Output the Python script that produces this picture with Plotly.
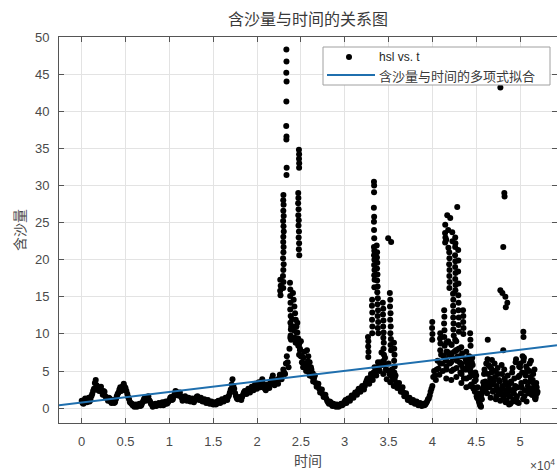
import numpy as np
import plotly.graph_objects as go

# ---------------- data ----------------
t_base = [
    0, 200, 400, 600, 800, 1000, 1200, 1400, 1600, 1800,
    2000, 2200, 2400, 2600, 2800, 3000, 3200, 3400, 3600, 3800,
    4000, 4200, 4400, 4600, 4800, 5000, 5200, 5400, 5600, 5800,
    6000, 6200, 6400, 6600, 6800, 7000, 7200, 7400, 7600, 7800,
    8000, 8200, 8400, 8600, 8800, 9000, 9200, 9400, 9600, 9800,
    10000, 10200, 10400, 10600, 10800, 11000, 11200, 11400, 11600, 11800,
    12000, 12200, 12400, 12600, 12800, 13000, 13200, 13400, 13600, 13800,
    14000, 14200, 14400, 14600, 14800, 15000, 15200, 15400, 15600, 15800,
    16000, 16200, 16400, 16600, 16800, 17000, 17200, 17400, 17600, 17800,
    18000, 18200, 18400, 18600, 18800, 19000, 19200, 19400, 19600, 19800,
    20000, 20200, 20400, 20600, 20800, 21000, 21200, 21400, 21600, 21800,
    22000, 22200, 22400, 22600, 22800, 23000, 23200, 23400, 23600, 23800,
    24000, 24200, 24400, 24600, 24800, 25000, 25200, 25400, 25600, 25800,
    26000, 26200, 26400, 26600, 26800, 27000, 27200, 27400, 27600, 27800,
    28000, 28200, 28400, 28600, 28800, 29000, 29200, 29400, 29600, 29800,
    30000, 30200, 30400, 30600, 30800, 31000, 31200, 31400, 31600, 31800,
    32000, 32200, 32400, 32600, 32800, 33000, 33200, 33400, 33600, 33800,
    34000, 34200, 34400, 34600, 34800, 35000, 35200, 35400, 35600, 35800,
    36000, 36200, 36400, 36600, 36800, 37000, 37200, 37400, 37600, 37800,
    38000, 38200, 38400, 38600, 38800, 39000, 39200, 39400, 39600, 39800,
    40000, 40200, 40400, 40600, 40800, 41000, 41200, 41400, 41600, 41800,
    42000, 42200, 42400, 42600, 42800, 43000, 43200, 43400, 43600, 43800,
    44000, 44200, 44400, 44600, 44800, 45000, 45200, 45400, 45600, 45800,
    46000, 46200, 46400, 46600, 46800, 47000, 47200, 47400, 47600, 47800,
    48000, 48200, 48400, 48600, 48800, 49000, 49200, 49400, 49600, 49800,
    50000, 50200, 50400, 50600, 50800, 51000, 51200, 51400, 51600, 51800,
    52000,
]
hsl_base = [
    1.0, 0.6, 1.3, 0.8, 1.4, 1.1, 1.9, 2.6, 3.8, 2.9,
    2.3, 2.9, 1.8, 2.2, 1.4, 1.0, 1.3, 0.7, 1.1, 0.8,
    1.6, 2.1, 2.8, 2.4, 3.3, 2.7, 1.9, 1.2, 0.7, 0.4,
    0.2, 0.5, 0.3, 0.6, 0.4, 0.9, 1.4, 1.1, 1.6, 0.9,
    0.5, 0.3, 0.6, 0.4, 0.7, 0.4, 0.8, 0.5, 0.9, 0.7,
    1.1, 1.5, 1.2, 1.9, 2.2, 1.7, 2.1, 1.4, 1.2, 1.6,
    1.0, 1.4, 0.9, 1.3, 0.8, 1.2, 1.6, 1.1, 1.4, 0.9,
    1.2, 0.7, 1.1, 0.6, 0.9, 0.5, 0.8, 0.6, 1.0, 0.7,
    1.2, 0.9, 1.4, 1.1, 1.7, 2.5, 3.9, 2.6, 1.6, 1.2,
    1.5, 1.1, 1.8, 2.3, 1.9, 2.6, 2.1, 2.9, 2.4, 3.3,
    2.6, 3.5, 2.8, 3.9, 3.0, 2.4, 3.2, 2.7, 3.6, 4.4,
    3.1, 3.8, 3.3, 4.5, 3.9, 5.2, 4.6, 7.0, 5.5, 9.5,
    12.0, 10.5, 8.8, 11.5, 7.2, 9.0, 6.1, 7.6, 5.0, 6.3,
    4.4, 5.2, 3.6, 4.4, 2.9, 3.3, 2.1, 2.5, 1.5, 1.8,
    1.0, 0.6, 0.8, 0.3, 0.5, 0.2, 0.4, 0.3, 0.6, 0.5,
    0.9, 0.7, 1.3, 1.0, 1.7, 1.4, 2.1, 1.8, 2.6, 2.2,
    3.0, 2.5, 3.4, 4.0, 3.3, 4.6, 3.8, 5.5, 4.4, 6.2,
    5.0, 7.5, 4.6, 6.8, 3.9, 6.0, 3.5, 5.2, 3.0, 4.4,
    2.7, 3.4, 2.2, 2.8, 1.6, 2.0, 1.1, 1.4, 0.8, 1.1,
    0.6, 0.9, 0.4, 0.7, 0.3, 0.6, 0.5, 0.9, 1.3, 2.2,
    3.0, 5.0, 3.8, 6.4, 4.5, 7.2, 5.0, 8.4, 5.6, 9.0,
    6.0, 8.5, 5.2, 9.2, 6.4, 8.0, 4.8, 7.4, 4.0, 6.6,
    6.0, 7.0, 4.8, 5.8, 3.6, 4.4, 2.0, 0.6, 1.8, 3.5,
    4.8, 3.2, 5.8, 4.0, 6.5, 3.6, 5.0, 2.6, 3.8, 1.8,
    3.0, 5.2, 2.4, 4.4, 1.6, 3.4, 0.9, 2.6, 1.3, 4.2,
    5.5, 2.8, 6.4, 3.6, 5.0, 2.4, 4.2, 1.8, 3.2, 1.5,
    2.2,
]

t_mid = [
    100, 300, 500, 700, 900, 1100, 1300, 1500, 1700, 1900,
    2100, 2300, 2500, 2700, 2900, 3100, 3300, 3500, 3700, 3900,
    4100, 4300, 4500, 4700, 4900, 5100, 5300, 5500, 5700, 5900,
    6100, 6300, 6500, 6700, 6900, 7100, 7300, 7500, 7700, 7900,
    8100, 8300, 8500, 8700, 8900, 9100, 9300, 9500, 9700, 9900,
    10100, 10300, 10500, 10700, 10900, 11100, 11300, 11500, 11700, 11900,
    12100, 12300, 12500, 12700, 12900, 13100, 13300, 13500, 13700, 13900,
    14100, 14300, 14500, 14700, 14900, 15100, 15300, 15500, 15700, 15900,
    16100, 16300, 16500, 16700, 16900, 17100, 17300, 17500, 17700, 17900,
    18100, 18300, 18500, 18700, 18900, 19100, 19300, 19500, 19700, 19900,
    20100, 20300, 20500, 20700, 20900, 21100, 21300, 21500, 21700, 21900,
    22100, 22300, 22500, 22700, 22900, 23100, 23300, 23500, 23700, 23900,
    24100, 24300, 24500, 24700, 24900, 25100, 25300, 25500, 25700, 25900,
    26100, 26300, 26500, 26700, 26900, 27100, 27300, 27500, 27700, 27900,
    28100, 28300, 28500, 28700, 28900, 29100, 29300, 29500, 29700, 29900,
    30100, 30300, 30500, 30700, 30900, 31100, 31300, 31500, 31700, 31900,
    32100, 32300, 32500, 32700, 32900, 33100, 33300, 33500, 33700, 33900,
    34100, 34300, 34500, 34700, 34900, 35100, 35300, 35500, 35700, 35900,
    36100, 36300, 36500, 36700, 36900, 37100, 37300, 37500, 37700, 37900,
    38100, 38300, 38500, 38700, 38900, 39100, 39300, 39500, 39700, 39900,
    40100, 40300, 40500, 40700, 40900, 41100, 41300, 41500, 41700, 41900,
    42100, 42300, 42500, 42700, 42900, 43100, 43300, 43500, 43700, 43900,
]
hsl_mid = [
    0.7, 1.1, 0.9, 1.2, 0.9, 1.6, 2.3, 3.4, 3.1, 2.4,
    2.7, 2.2, 2.3, 1.6, 1.3, 1.4, 0.9, 1.0, 0.7, 1.2,
    1.9, 2.5, 2.3, 3.0, 2.9, 2.3, 1.5, 0.8, 0.6, 0.5,
    0.4, 0.2, 0.5, 0.3, 0.7, 1.2, 1.0, 1.4, 1.1, 0.6,
    0.2, 0.5, 0.3, 0.6, 0.5, 0.6, 0.4, 0.8, 0.6, 0.9,
    1.4, 1.1, 1.6, 2.3, 1.8, 2.0, 1.6, 1.0, 1.5, 1.2,
    1.3, 1.0, 1.2, 0.9, 1.1, 1.5, 1.2, 1.3, 1.0, 1.1,
    0.9, 1.0, 0.8, 0.8, 0.6, 0.7, 0.5, 0.9, 0.8, 1.0,
    1.0, 1.2, 1.2, 1.5, 2.1, 3.2, 3.0, 2.0, 1.3, 1.4,
    1.3, 1.5, 2.1, 2.0, 2.3, 2.2, 2.6, 2.5, 3.0, 2.8,
    3.2, 3.0, 3.5, 3.3, 2.6, 2.9, 2.8, 3.3, 4.0, 3.6,
    3.5, 3.4, 4.0, 4.1, 4.6, 4.8, 6.0, 6.2, 8.0, 11.0,
    11.0, 9.5, 10.2, 8.4, 8.0, 7.0, 6.8, 5.8, 5.6, 4.9,
    4.8, 4.2, 4.0, 3.4, 3.1, 2.6, 2.3, 1.9, 1.7, 1.3,
    0.8, 0.9, 0.5, 0.6, 0.3, 0.5, 0.2, 0.5, 0.4, 0.7,
    1.1, 1.0, 1.1, 1.4, 1.5, 1.8, 1.9, 2.3, 2.3, 2.7,
    2.8, 3.0, 3.7, 3.6, 4.1, 4.1, 4.8, 4.8, 5.5, 5.4,
    6.2, 5.8, 5.9, 5.2, 5.1, 4.6, 4.4, 4.0, 3.8, 3.4,
    3.1, 2.7, 2.6, 2.1, 1.9, 1.5, 1.3, 1.0, 1.0, 0.8,
    0.8, 0.6, 0.6, 0.4, 0.5, 0.4, 0.7, 1.2, 1.7, 2.6,
    4.2, 4.4, 5.2, 5.3, 6.0, 6.0, 7.0, 6.6, 7.6, 7.2,
    7.2, 6.8, 7.6, 7.8, 7.0, 6.2, 6.0, 5.4, 5.2, 6.2,
]

t_fill = [
    44100, 44300, 44500, 44700, 44900, 45100, 45300, 45500, 45700, 45900,
    46100, 46300, 46500, 46700, 46900, 47100, 47300, 47500, 47700, 47900,
    48100, 48300, 48500, 48700, 48900, 49100, 49300, 49500, 49700, 49900,
    50100, 50300, 50500, 50700, 50900, 51100, 51300, 51500, 51700, 51900,
]
hsl_fill = [
    5.2, 3.0, 6.2, 2.6, 4.8, 1.4, 1.0, 0.3, 2.6, 4.6,
    2.6, 6.6, 2.8, 5.4, 2.2, 6.0, 1.6, 4.6, 2.2, 5.8,
    1.8, 3.6, 1.0, 2.8, 0.6, 4.8, 2.0, 6.2, 0.8, 5.6,
    2.0, 7.0, 1.6, 5.6, 3.0, 6.0, 2.6, 4.6, 1.4, 2.8,
]

t_tail = [
    44050, 44150, 44250, 44350, 44450, 44550, 44650, 44750, 44850, 44950,
    45050, 45150, 45250, 45350, 45450, 45550, 45650, 45750, 45850, 45950,
    46050, 46150, 46250, 46350, 46450, 46550, 46650, 46750, 46850, 46950,
    47050, 47150, 47250, 47350, 47450, 47550, 47650, 47750, 47850, 47950,
    48050, 48150, 48250, 48350, 48450, 48550, 48650, 48750, 48850, 48950,
    49050, 49150, 49250, 49350, 49450, 49550, 49650, 49750, 49850, 49950,
    50050, 50150, 50250, 50350, 50450, 50550, 50650, 50750, 50850, 50950,
    51050, 51150, 51250, 51350, 51450, 51550, 51650, 51750, 51850, 51950,
]
hsl_tail = [
    5.6, 6.6, 4.2, 5.4, 3.2, 6.8, 2.8, 4.4, 2.2, 3.8,
    1.6, 2.8, 1.2, 0.8, 0.4, 0.2, 1.2, 2.2, 3.0, 5.2,
    3.6, 6.0, 2.0, 4.6, 3.4, 5.6, 1.4, 4.8, 3.2, 5.0,
    2.4, 4.2, 1.2, 3.0, 5.4, 2.0, 3.6, 1.0, 2.4, 4.6,
    2.6, 1.4, 4.0, 0.8, 3.2, 1.8, 2.2, 0.5, 1.6, 3.6,
    2.4, 5.4, 1.2, 4.0, 3.0, 6.6, 1.6, 2.8, 0.7, 4.4,
    6.0, 3.4, 4.8, 1.2, 6.8, 2.4, 4.4, 0.9, 5.2, 2.0,
    5.0, 3.6, 6.4, 1.8, 3.8, 2.2, 5.2, 1.2, 3.4, 2.0,
]

t_peak_a = [
    23350, 23360, 23340, 23370, 23350, 23330, 23360, 23350, 23380, 23360,
    23010, 22990, 23030, 23000, 23040, 22980, 23020, 23050, 23000, 22990,
    23030, 23010, 22970, 23040, 23000, 22960, 23020, 22990,
    22650, 22700, 22640, 22680,
    24780, 24800, 24790, 24810, 24800, 24700, 24720, 24690, 24740, 24710,
    24760, 24730, 24780, 24750, 24800, 24770, 24820,
    23760, 23800, 23780, 23820, 23790, 23840, 23810, 23860, 23830, 23880,
    24100, 24180, 24260, 24340, 24420, 24500, 24600, 24700, 24800, 24900,
    25000, 25120, 25260,
    25700, 25850, 26000, 26150, 26350,
]
hsl_peak_a = [
    48.3, 46.7, 45.2, 44.0, 41.3, 38.0, 36.6, 36.2, 32.4, 31.4,
    28.7, 28.0, 27.4, 26.6, 25.9, 25.2, 24.5, 23.8, 23.1, 22.4,
    21.7, 21.0, 20.2, 19.4, 18.6, 17.8, 17.0, 16.2,
    17.3, 16.5, 15.8, 15.2,
    34.8, 34.2, 33.6, 33.0, 32.4, 29.0, 28.3, 27.6, 26.8, 26.0,
    25.3, 24.6, 23.8, 23.0, 22.2, 21.4, 20.6,
    16.9, 16.0, 15.1, 14.2, 13.3, 12.4, 11.5, 10.6, 9.8, 9.2,
    15.5, 14.6, 13.7, 12.8, 11.9, 11.0, 10.2, 9.4, 8.6, 7.8,
    7.0, 6.2, 5.5,
    7.8, 7.0, 6.2, 5.5, 4.7,
]

t_peak_b = [
    33340, 33360, 33350, 33330, 33360, 33340, 33350, 33370, 33340, 33380,
    33350, 33390, 33360, 33400, 33370, 33410, 33380,
    33650, 33700, 33680, 33720, 33690, 33740, 33700, 33760, 33720, 33780,
    33740, 33800, 33760, 33820, 33780, 33840,
    33130, 33110, 33150, 33120, 33160, 33140,
    34960, 35300,
    35150, 35200, 35170, 35230, 35190, 35250, 35210, 35270, 35230, 35290,
    34350, 34400, 34370, 34420, 34390, 34440, 34410, 34460, 34430, 34480, 34450,
    35620, 35650, 35680, 35640, 35700, 35660, 35720,
    32660, 32700, 32680, 32720, 32690,
]
hsl_peak_b = [
    30.5, 30.0, 29.1, 27.0, 25.8, 25.1, 24.0, 22.9, 21.7, 21.2,
    20.6, 20.0, 19.3, 18.6, 17.9, 17.3, 16.3,
    21.9, 21.0, 20.3, 19.6, 18.8, 18.0, 17.2, 16.4, 15.6, 14.8,
    14.0, 13.2, 12.4, 11.6, 10.8, 10.1,
    14.6, 13.8, 12.9, 11.9, 11.0, 10.1,
    22.9, 22.4,
    15.5, 14.6, 13.7, 12.8, 11.9, 11.0, 10.1, 9.3, 8.5, 7.8,
    14.2, 13.4, 12.6, 11.8, 11.0, 10.2, 9.5, 8.8, 8.0, 7.2, 6.4,
    8.8, 8.0, 7.2, 6.4, 5.6, 4.8, 4.2,
    9.6, 9.0, 8.3, 7.6, 6.9,
]

t_peak_c = [
    39990, 39970, 40010, 39990,
    40900, 40880, 40920, 40900,
    42840, 41700, 42040,
    41470, 41450, 41490, 41460,
    41810, 41830, 42270, 42290, 41580,
    42610, 42630, 42600,
    41930, 41950, 41920, 41960, 41940, 41970, 41950,
    42590, 42620, 42600, 42640, 42610, 42650, 42630,
    42950, 42970, 42940, 42980,
    42360, 42390, 42370, 42400, 42380, 42420, 42400, 42440,
    42960, 42990, 42970, 43010, 42990, 43030,
    43500, 43530, 43520, 43550, 43540,
    44310, 44340, 44360,
    41350, 41370, 41340, 41380, 41360,
    41580, 41600, 41570, 41610, 41590,
    42150, 42170, 42140, 42180, 42160,
    42730, 42750, 42720, 42760, 42740,
    43300, 43320, 43290, 43330, 43310,
    43870, 43890, 43860, 43900, 43880,
]
hsl_peak_c = [
    11.6, 10.8, 10.0, 9.2,
    10.1, 9.4, 8.7, 7.8,
    27.1, 26.0, 25.6,
    24.7, 23.6, 23.0, 22.3,
    24.0, 21.6, 23.7, 22.5, 22.7,
    23.0, 22.2, 21.7,
    21.0, 20.2, 19.4, 18.6, 17.8, 17.0, 16.2,
    20.6, 19.8, 19.0, 18.2, 17.4, 16.6, 15.9,
    21.3, 19.9, 18.4, 16.8,
    15.4, 14.6, 13.8, 13.0, 12.2, 11.4, 10.6, 9.8,
    15.2, 14.2, 13.2, 12.2, 11.2, 10.3,
    13.2, 12.4, 11.6, 10.8, 10.0,
    10.1, 9.2, 8.4,
    13.2, 12.3, 11.4, 10.5, 9.6,
    8.8, 7.6, 6.4, 5.2, 4.0,
    8.6, 7.4, 6.2, 5.0, 3.8,
    9.0, 7.8, 6.6, 5.4, 4.2,
    8.2, 7.0, 5.8, 4.6, 3.4,
    7.6, 6.4, 5.2, 4.0, 2.8,
]

t_peak_d = [47760, 48210, 48240, 48090, 47760, 47990, 48330, 48560, 48380, 48090,
            46320, 50380, 50400]
hsl_peak_d = [43.2, 29.0, 28.5, 21.7, 15.9, 15.5, 15.0, 14.2, 13.6, 7.8,
              9.2, 10.3, 9.6]

# polynomial fit coefficients (degree 1, highest power first)
fit_coef = [1.42e-4, 0.77]

x_range = [-2590, 54220]
y_range = [-2, 50]
x_tickvals = [0, 5000, 10000, 15000, 20000, 25000, 30000, 35000, 40000, 45000, 50000]
x_ticktext = ["0", "0.5", "1", "1.5", "2", "2.5", "3", "3.5", "4", "4.5", "5"]
y_tickvals = [0, 5, 10, 15, 20, 25, 30, 35, 40, 45, 50]

scatter_name = "hsl vs. t"
fit_name = "含沙量与时间的多项式拟合"

# ---------------- figure ----------------
t_all = t_base + t_mid + t_fill + t_tail + t_peak_a + t_peak_b + t_peak_c + t_peak_d
hsl_all = hsl_base + hsl_mid + hsl_fill + hsl_tail + hsl_peak_a + hsl_peak_b + hsl_peak_c + hsl_peak_d

x_fit = np.array(x_range, dtype=float)
y_fit = np.polyval(fit_coef, x_fit)

AX = "#555555"
TXT = "#4a4a4a"
CJK = "Noto Sans CJK SC"
LAT = "Liberation Sans, Arial, sans-serif"
FIT_COLOR = "#1f6fae"

# plot area in pixels (for placing the boxed legend)
L, R, T, B = 59, 557, 37, 423
def px(xp):
    return (xp - L) / (R - L)
def py(yp):
    return (B - yp) / (B - T)

fig = go.Figure()
fig.add_trace(go.Scatter(
    x=t_all, y=hsl_all, mode="markers", name=scatter_name, showlegend=False,
    marker=dict(color="black", size=6, line=dict(width=0)),
))
fig.add_trace(go.Scatter(
    x=x_fit, y=y_fit, mode="lines", name=fit_name, showlegend=False,
    line=dict(color=FIT_COLOR, width=2),
))

axis_common = dict(
    showline=True, linecolor=AX, linewidth=1, mirror="ticks",
    ticks="inside", ticklen=5, tickcolor=AX, tickwidth=1,
    showgrid=True, gridcolor="#e3e3e3", gridwidth=1, zeroline=False,
    tickfont=dict(family=LAT, size=13, color=TXT),
)

shapes = [
    dict(type="rect", xref="paper", yref="paper",
         x0=px(323), x1=px(550), y0=py(85), y1=py(47),
         fillcolor="white", line=dict(color="#a0a0a0", width=1), layer="above"),
    dict(type="circle", xref="paper", yref="paper",
         x0=px(346), x1=px(352), y0=py(60), y1=py(54),
         fillcolor="black", line=dict(width=0), layer="above"),
    dict(type="line", xref="paper", yref="paper",
         x0=px(327), x1=px(375), y0=py(75), y1=py(75),
         line=dict(color=FIT_COLOR, width=2), layer="above"),
]

annotations = [
    dict(text=scatter_name, xref="paper", yref="paper", x=px(377), y=py(57),
         xanchor="left", yanchor="middle", showarrow=False,
         font=dict(family=LAT, size=12, color="#262626")),
    dict(text=fit_name, xref="paper", yref="paper", x=px(377), y=py(75),
         xanchor="left", yanchor="middle", showarrow=False,
         font=dict(family=CJK, size=13, color="#3a3a3a")),
    dict(text="×10<sup>4</sup>", xref="paper", yref="paper",
         x=1.0, y=py(465), xanchor="right", yanchor="middle",
         showarrow=False, font=dict(family=LAT, size=12, color=TXT)),
]

fig.update_layout(
    width=557, height=472,
    margin=dict(l=L, r=557 - R, t=T, b=472 - B),
    paper_bgcolor="white", plot_bgcolor="white",
    font=dict(family=CJK, color=TXT),
    title=dict(text="含沙量与时间的关系图", x=0.5, xref="paper", xanchor="center",
               y=1 - 19 / 472, yref="container", yanchor="middle",
               font=dict(family=CJK, size=16, color="#3a3a3a")),
    xaxis=dict(range=x_range, tickvals=x_tickvals, ticktext=x_ticktext,
               ticklabelstandoff=6,
               title=dict(text="时间", font=dict(family=CJK, size=14, color=TXT), standoff=8),
               **axis_common),
    yaxis=dict(range=y_range, tickvals=y_tickvals,
               ticklabelstandoff=6,
               title=dict(text="含沙量", font=dict(family=CJK, size=14, color=TXT), standoff=6),
               **axis_common),
    showlegend=False,
    shapes=shapes,
    annotations=annotations,
)

fig.write_html("out.html")
